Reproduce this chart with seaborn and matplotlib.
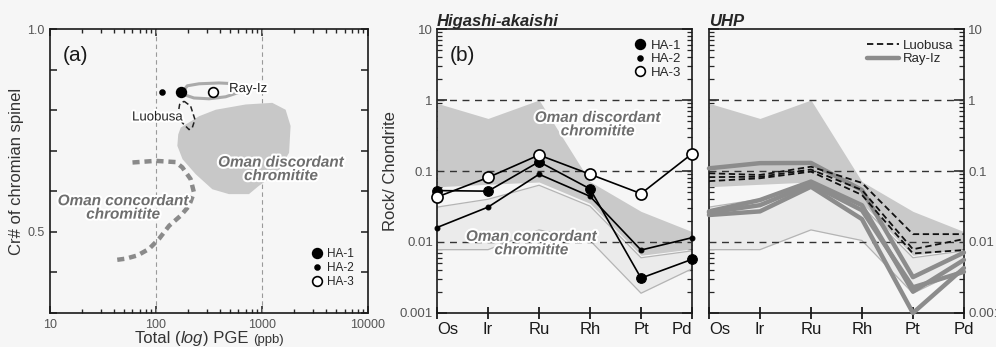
import numpy as np
import pandas as pd
import matplotlib
matplotlib.use("Agg")
import matplotlib.pyplot as plt
import seaborn as sns
from matplotlib.lines import Line2D
import matplotlib.patheffects as pe
from matplotlib.ticker import FixedLocator, FixedFormatter, NullFormatter, LogLocator

# ---------------- data ----------------
elements = ["Os", "Ir", "Ru", "Rh", "Pt", "Pd"]

ha1 = [0.053, 0.052, 0.135, 0.056, 0.0031, 0.0057]
ha2 = [0.016, 0.031, 0.090, 0.044, 0.0077, 0.0115]
ha3 = [0.043, 0.081, 0.168, 0.090, 0.048, 0.175]

disc_upper = [0.90, 0.55, 1.00, 0.071, 0.027, 0.014]
disc_lower = [0.060, 0.065, 0.070, 0.035, 0.0065, 0.008]
conc_upper = [0.031, 0.040, 0.063, 0.032, 0.0060, 0.0075]
conc_lower = [0.0078, 0.0078, 0.0148, 0.0105, 0.0019, 0.0042]

luobusa_1 = [0.093, 0.088, 0.115, 0.068, 0.0129, 0.0129]
luobusa_2 = [0.082, 0.083, 0.105, 0.054, 0.0079, 0.0110]
luobusa_3 = [0.072, 0.079, 0.098, 0.046, 0.0069, 0.0077]

rayiz_1 = [0.109, 0.129, 0.130, 0.054, 0.0032, 0.0071]
rayiz_2 = [0.027, 0.039, 0.071, 0.033, 0.0020, 0.0056]
rayiz_3 = [0.024, 0.027, 0.060, 0.021, 0.0010, 0.0043]
rayiz_4 = [0.026, 0.033, 0.065, 0.028, 0.0023, 0.0038]

# panel (a)
ha_names = ["HA-1", "HA-2", "HA-3"]
ha_pge = [171, 115, 347]
ha_cr = [0.844, 0.844, 0.844]

oman_disc_x = [171, 255, 366, 702, 1250, 1670, 1860, 1800, 1400, 930, 753, 488, 340, 237, 178, 159, 162]
oman_disc_y = [0.757, 0.785, 0.801, 0.814, 0.818, 0.801, 0.761, 0.695, 0.646, 0.613, 0.593, 0.593, 0.605, 0.642, 0.679, 0.712, 0.740]

oman_conc_x = [60, 99, 153, 177, 212, 228, 205, 171, 133, 107, 86, 67, 52, 40]
oman_conc_y = [0.671, 0.675, 0.672, 0.659, 0.630, 0.597, 0.564, 0.540, 0.515, 0.483, 0.458, 0.442, 0.434, 0.430]

luobusa_x = [184, 212, 233, 220, 205, 177, 162, 167, 184]
luobusa_y = [0.822, 0.810, 0.777, 0.757, 0.752, 0.769, 0.793, 0.814, 0.822]

rayiz_x = [180, 197, 255, 393, 565, 652, 607, 455, 316, 228, 190, 180]
rayiz_y = [0.846, 0.860, 0.865, 0.867, 0.865, 0.857, 0.844, 0.833, 0.828, 0.830, 0.837, 0.846]

yticks_b = [0.001, 0.01, 0.1, 1, 10]
yticklabels_b = ["0.001", "0.01", "0.1", "1", "10"]

# ---------------- style ----------------
sns.set_theme(style="ticks")
plt.rcParams["font.family"] = ["Liberation Sans", "DejaVu Sans"]
BG = "#f6f6f6"
plt.rcParams["axes.edgecolor"] = "#1a1a1a"
plt.rcParams["axes.linewidth"] = 1.2

fig = plt.figure(figsize=(9.96, 3.47), dpi=100, facecolor=BG)
axa = fig.add_axes([0.0502, 0.098, 0.3193, 0.8184])
axb = fig.add_axes([0.4388, 0.098, 0.2560, 0.8184])
axu = fig.add_axes([0.7118, 0.098, 0.2560, 0.8184])
for ax in (axa, axb, axu):
    ax.set_facecolor(BG)

label_color = "#6e6e6e"
stroke = [pe.withStroke(linewidth=3, foreground="white")]

# ---------------- panel (a) ----------------
axa.set_xscale("log")
axa.set_xlim(10, 10000)
axa.set_ylim(0.3, 1.0)
for xv in (100, 1000):
    axa.axvline(xv, color="#9a9a9a", lw=0.8, ls=(0, (4, 3)), zorder=1)

axa.fill(oman_disc_x, oman_disc_y, color="#c8c8c8", lw=0, zorder=2)
axa.plot(oman_conc_x, oman_conc_y, color="#8a8a8a", lw=3.2, dashes=(1.6, 1.1), zorder=3)
axa.plot(rayiz_x, rayiz_y, color="#aaaaaa", lw=2.2, zorder=3)
axa.plot(luobusa_x, luobusa_y, color="#222222", lw=1.1, dashes=(3.5, 2), zorder=3)

msizes = [7, 3.5, 7]
faces = ["black", "black", "white"]
df_a = pd.DataFrame({"sample": ha_names, "pge": ha_pge, "cr": ha_cr})
for (_, row), ms, fc in zip(df_a.iterrows(), msizes, faces):
    sns.scatterplot(x=[row["pge"]], y=[row["cr"]], ax=axa, s=(ms ** 2), color=fc, edgecolor="black",
                    linewidth=1.2, zorder=5)

axa.text(0.04, 0.908, "(a)", transform=axa.transAxes, fontsize=15, ha="left", va="center", color="#1a1a1a")
axa.text(489, 0.852, "Ray-Iz", fontsize=9.5, ha="left", va="center", color="#222222", path_effects=stroke)
axa.text(178, 0.782, "Luobusa", fontsize=9.5, ha="right", va="center", color="#222222", path_effects=stroke)
axa.text(1510, 0.654, "Oman discordant\nchromitite", fontsize=11, fontweight="bold", fontstyle="italic",
         ha="center", va="center", color=label_color, linespacing=0.95, path_effects=stroke, zorder=6)
axa.text(49, 0.559, "Oman concordant\nchromitite", fontsize=11, fontweight="bold", fontstyle="italic",
         ha="center", va="center", color=label_color, linespacing=0.95, path_effects=stroke, zorder=6)

ha_handles = [Line2D([], [], marker="o", ms=ms, mfc=fc, mec="black", mew=1.2, ls="none")
              for ms, fc in zip(msizes, faces)]
axa.legend(ha_handles, ha_names, loc="lower right", bbox_to_anchor=(0.98, 0.06), frameon=False,
           fontsize=8.5, handlelength=0.8, handletextpad=0.4, labelspacing=0.15, borderpad=0.2)

axa.yaxis.set_major_locator(FixedLocator([0.3, 0.4, 0.5, 0.6, 0.7, 0.8, 0.9, 1.0]))
axa.yaxis.set_major_formatter(FixedFormatter(["", "", "0.5", "", "", "", "", "1.0"]))
axa.xaxis.set_major_locator(FixedLocator([10, 100, 1000, 10000]))
axa.xaxis.set_major_formatter(FixedFormatter(["10", "100", "1000", "10000"]))
axa.xaxis.set_minor_locator(LogLocator(base=10, subs=np.arange(2, 10)))
axa.xaxis.set_minor_formatter(NullFormatter())
axa.tick_params(axis="both", which="major", direction="in", length=5, width=1.1, top=True, right=True,
                labelsize=9, colors="#1a1a1a", pad=4)
axa.tick_params(axis="x", which="minor", direction="in", length=3, width=1.0, top=True)
axa.tick_params(axis="y", which="major", labelcolor="#555555")
axa.tick_params(axis="x", which="major", labelcolor="#555555")
axa.set_xlabel("")
axa.set_ylabel("Cr# of chromian spinel", fontsize=12, labelpad=2, color="#333333")

# x label with italic "log" and small "(ppb)"
fig.canvas.draw()
r = fig.canvas.get_renderer()
pieces = [("Total (", 12, "normal"), ("log", 12, "italic"), (") PGE ", 12, "normal"), ("(ppb)", 9.5, "normal")]
tmp = [axa.text(0, 0, s, fontsize=fs, fontstyle=st) for s, fs, st in pieces]
widths = [t.get_window_extent(r).width for t in tmp]
for t in tmp:
    t.remove()
bb = axa.get_window_extent(r)
x0 = (bb.x0 + bb.x1) / 2 - sum(widths) / 2
ybase = bb.y0 - 30
for (s, fs, st), w in zip(pieces, widths):
    fig.text(x0 / fig.bbox.width, ybase / fig.bbox.height, s, fontsize=fs, fontstyle=st,
             ha="left", va="baseline", color="#333333")
    x0 += w

# ---------------- panels (b) ----------------
pos = np.arange(len(elements))

def setup_b(ax, left_labels, pd_align):
    ax.set_yscale("log")
    ax.set_xlim(0, 5)
    ax.set_ylim(0.001, 10)
    for yv in (0.01, 0.1, 1):
        ax.axhline(yv, color="#333333", lw=1.0, ls=(0, (5, 4)), zorder=4)
    ax.fill_between(pos, conc_lower, conc_upper, color="#ebebeb", lw=0, zorder=1)
    ax.fill_between(pos, disc_lower, disc_upper, color="#c9c9c9", lw=0, zorder=2)
    sns.lineplot(x=pos, y=conc_upper, ax=ax, color="#b4b4b4", lw=0.9, zorder=2.5)
    sns.lineplot(x=pos, y=conc_lower, ax=ax, color="#b4b4b4", lw=0.9, zorder=2.5)
    ax.yaxis.set_major_locator(FixedLocator(yticks_b))
    ax.yaxis.set_major_formatter(FixedFormatter(yticklabels_b))
    ax.yaxis.set_minor_locator(LogLocator(base=10, subs=np.arange(2, 10)))
    ax.yaxis.set_minor_formatter(NullFormatter())
    ax.set_xticks(pos)
    ax.set_xticklabels(elements)
    ax.tick_params(axis="x", which="major", direction="inout", length=9, width=1.3, labelsize=12,
                   colors="#1a1a1a", pad=2)
    ax.tick_params(axis="y", which="major", direction="in", length=7, width=1.1, left=True, right=True,
                   labelleft=left_labels, labelright=not left_labels, labelsize=9.5, colors="#1a1a1a",
                   labelcolor="#555555", pad=3)
    ax.tick_params(axis="y", which="minor", direction="in", length=3.5, width=0.9, left=True, right=True)
    labs = ax.get_xticklabels()
    labs[0].set_ha("left")
    labs[-1].set_ha(pd_align)
    ax.set_xlabel("")

setup_b(axb, True, "right")
setup_b(axu, False, "center")

# Higashi-akaishi samples
sns.lineplot(x=pos, y=ha2, ax=axb, color="black", lw=1.2, marker="o", ms=3.5, mec="black", zorder=6)
sns.lineplot(x=pos, y=ha1, ax=axb, color="black", lw=1.2, marker="o", ms=7, mec="black", zorder=6)
sns.lineplot(x=pos, y=ha3, ax=axb, color="black", lw=1.2, marker="o", ms=8, mfc="white", mec="black",
             mew=1.2, zorder=7)
for ln in axb.lines[-3:]:
    ln.set_clip_on(False)

axb.text(0.05, 0.905, "(b)", transform=axb.transAxes, fontsize=15, ha="left", va="center", color="#1a1a1a")
axb.text(3.15, 0.45, "Oman discordant\nchromitite", fontsize=11, fontweight="bold", fontstyle="italic",
         ha="center", va="center", color=label_color, linespacing=0.95, path_effects=stroke, zorder=8)
axb.text(1.85, 0.0095, "Oman concordant\nchromitite", fontsize=11, fontweight="bold", fontstyle="italic",
         ha="center", va="center", color=label_color, linespacing=0.95, path_effects=stroke, zorder=8)
axb.legend(ha_handles, ha_names, loc="upper right", bbox_to_anchor=(1.0, 1.0), frameon=False,
           fontsize=9.5, handlelength=0.8, handletextpad=0.4, labelspacing=0.1, borderpad=0.3)
axb.set_ylabel("Rock/ Chondrite", fontsize=12, labelpad=1, color="#333333")
axb.set_title("Higashi-akaishi", loc="left", fontsize=12, fontweight="bold", fontstyle="italic", pad=2)

# UHP
for series in (rayiz_1, rayiz_2, rayiz_3, rayiz_4):
    sns.lineplot(x=pos, y=series, ax=axu, color="#8c8c8c", lw=3.2, zorder=5)
    axu.lines[-1].set_clip_on(False)
for series in (luobusa_1, luobusa_2, luobusa_3):
    sns.lineplot(x=pos, y=series, ax=axu, color="#111111", lw=1.3, zorder=6)
    axu.lines[-1].set_dashes((3.5, 2))
axu.set_ylabel("")
axu.set_title("UHP", loc="left", fontsize=12, fontweight="bold", fontstyle="italic", pad=2)
uhp_handles = [Line2D([], [], color="#111111", lw=1.3, dashes=(3.5, 2)),
               Line2D([], [], color="#8c8c8c", lw=3.2)]
axu.legend(uhp_handles, ["Luobusa", "Ray-Iz"], loc="upper right", bbox_to_anchor=(1.0, 1.0), frameon=False,
           fontsize=9.5, handlelength=2.4, handletextpad=0.3, labelspacing=0.1, borderpad=0.3)

fig.savefig("out.png", dpi=100, facecolor=BG)
